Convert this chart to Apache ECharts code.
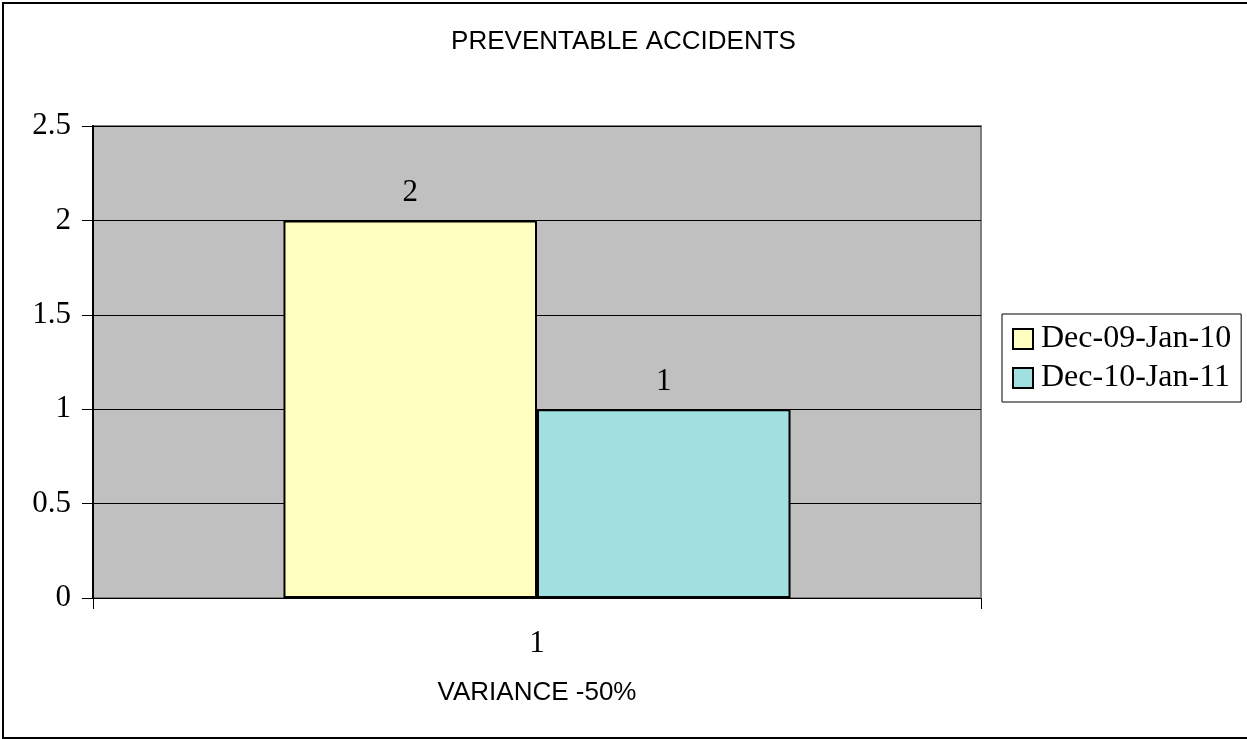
<!DOCTYPE html>
<html>
<head>
<meta charset="utf-8">
<title>Preventable Accidents</title>
<script src="https://cdn.jsdelivr.net/npm/echarts@6/dist/echarts.min.js"></script>
<style>
  html, body { margin: 0; padding: 0; background: #ffffff; }
  #chart { width: 1247px; height: 739px; }
</style>
</head>
<body>
<div id="chart"></div>
<script>
// Chart data
const chartTitle = 'PREVENTABLE ACCIDENTS';
const axisTitle = 'VARIANCE -50%';
const categories = ['1'];
const seriesNames = ['Dec-09-Jan-10', 'Dec-10-Jan-11'];
const periodA = [2];
const periodB = [1];
const yTicks = { min: 0, max: 2.5, interval: 0.5 };
const barColors = ['#FFFFC0', '#A0E0E0'];

const serif = 'Liberation Serif, Times New Roman, serif';
const sans = 'Liberation Sans, Arial, sans-serif';

const chart = echarts.init(document.getElementById('chart'), null, { renderer: 'canvas' });

const barSeries = [periodA, periodB].map((values, i) => ({
  name: seriesNames[i],
  type: 'bar',
  data: values,
  barGap: '0%',
  barCategoryGap: '42.9%',
  itemStyle: { color: barColors[i], borderColor: '#000000', borderWidth: 2 },
  label: {
    show: true,
    position: 'top',
    distance: 12,
    fontFamily: serif,
    fontSize: 31,
    color: '#000000'
  }
}));

chart.setOption({
  animation: false,
  backgroundColor: '#ffffff',
  title: {
    text: chartTitle,
    left: 'center',
    top: 24,
    textStyle: { fontFamily: sans, fontSize: 26, fontWeight: 'normal', color: '#000000' }
  },
  legend: {
    orient: 'vertical',
    left: 1002,
    top: 314,
    padding: [9, 10, 8, 10],
    itemGap: 7,
    itemWidth: 20,
    itemHeight: 20,
    icon: 'rect',
    borderColor: '#000000',
    borderWidth: 1,
    backgroundColor: '#ffffff',
    itemStyle: { borderColor: '#000000', borderWidth: 2 },
    textStyle: { fontFamily: serif, fontSize: 32, lineHeight: 32, color: '#000000', padding: [0, 0, 0, 3] },
    data: seriesNames
  },
  grid: {
    left: 93,
    right: 266,
    top: 126,
    bottom: 141,
    show: true,
    backgroundColor: '#C0C0C0',
    borderColor: '#808080',
    borderWidth: 2,
    containLabel: false
  },
  xAxis: {
    type: 'category',
    data: categories,
    name: axisTitle,
    nameLocation: 'middle',
    nameGap: 82,
    nameTextStyle: { fontFamily: sans, fontSize: 26, color: '#000000' },
    axisLine: { show: true, lineStyle: { color: '#000000', width: 1 } },
    axisTick: { show: true, alignWithLabel: false, length: 11, lineStyle: { color: '#000000' } },
    axisLabel: { margin: 30, fontFamily: serif, fontSize: 31, color: '#000000' },
    splitLine: { show: false }
  },
  yAxis: {
    type: 'value',
    min: yTicks.min,
    max: yTicks.max,
    interval: yTicks.interval,
    axisLine: { show: true, lineStyle: { color: '#000000', width: 2 } },
    axisTick: { show: true, inside: false, length: 11, lineStyle: { color: '#000000' } },
    axisLabel: { margin: 22, fontFamily: serif, fontSize: 31, color: '#000000' },
    splitLine: { show: true, lineStyle: { color: '#000000', width: 1 } }
  },
  series: barSeries,
  graphic: [
    {
      type: 'rect',
      silent: true,
      z: 100,
      shape: { x: 3, y: 3, width: 1260, height: 735 },
      style: { fill: null, stroke: '#000000', lineWidth: 2 }
    }
  ]
});
</script>
</body>
</html>
